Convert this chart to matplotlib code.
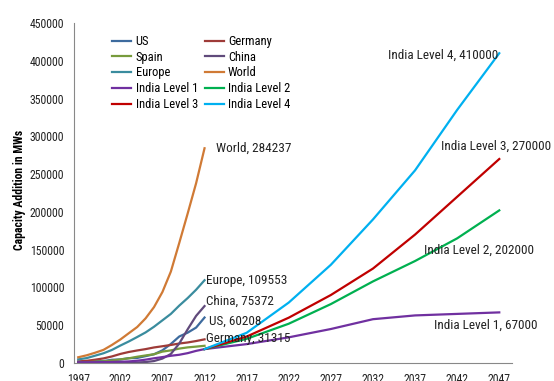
import matplotlib
matplotlib.use("Agg")
import matplotlib.pyplot as plt

plt.rcParams['font.family'] = ['Roboto Condensed', 'Liberation Sans', 'DejaVu Sans']

# installed capacity, MW
hist_years = list(range(1997, 2013))
us = [1600, 1900, 2500, 2600, 4300, 4700, 6400, 6700, 9100, 11600, 16800, 25200, 35100, 40200, 46900, 60208]
germany = [2100, 2900, 4400, 6100, 8700, 12000, 14600, 16600, 18400, 20600, 22200, 23900, 25800, 27200, 29100, 31315]
spain = [500, 900, 1800, 2200, 3300, 4800, 6200, 8300, 10000, 11600, 15100, 16700, 19100, 20700, 21700, 22800]
china = [170, 220, 260, 350, 400, 470, 570, 760, 1260, 2600, 5900, 12000, 25800, 44700, 62400, 75372]
europe = [4800, 6500, 9700, 12900, 17300, 23100, 28500, 34400, 40500, 48000, 56500, 65000, 76000, 86000, 97000, 109553]
world = [7600, 10200, 13600, 17400, 23900, 31100, 39400, 47600, 59100, 74000, 94000, 121000, 159000, 198000, 238000, 284237]
india_hist = [940, 1020, 1080, 1220, 1460, 1700, 2110, 3000, 4430, 6270, 7850, 9590, 10930, 13070, 16080, 18420]

# India scenarios
proj_years = [2012, 2017, 2022, 2027, 2032, 2037, 2042, 2047]
india_l1 = [18420, 25000, 34000, 45000, 58000, 63000, 65000, 67000]
india_l2 = [18420, 32000, 52000, 78000, 108000, 135000, 165000, 202000]
india_l3 = [18420, 35000, 60000, 90000, 125000, 170000, 220000, 270000]
india_l4 = [18420, 40000, 80000, 130000, 190000, 255000, 335000, 410000]

colors = {
    'US': '#3D6B9E', 'Germany': '#9E3B38', 'Spain': '#779B3C', 'China': '#604A7B',
    'Europe': '#3A8C9E', 'World': '#D07A35',
    'India Level 1': '#7030A0', 'India Level 2': '#00B050',
    'India Level 3': '#C00000', 'India Level 4': '#00B0F0',
}

fig = plt.figure(figsize=(5.54, 3.81), dpi=100)
ax = fig.add_axes([0.1336, 0.0472, 0.7904, 0.8924])

lw = 1.6
lines = {}
for name, vals in [('US', us), ('Germany', germany), ('Spain', spain), ('China', china),
                   ('Europe', europe), ('World', world)]:
    lines[name], = ax.plot(hist_years, vals, color=colors[name], lw=lw, label=name)

lines['India Level 1'], = ax.plot(hist_years + proj_years[1:], india_hist + india_l1[1:],
                                  color=colors['India Level 1'], lw=lw, label='India Level 1')
for name, vals in [('India Level 2', india_l2), ('India Level 3', india_l3), ('India Level 4', india_l4)]:
    lines[name], = ax.plot(proj_years, vals, color=colors[name], lw=lw, label=name)

ax.set_xlim(1996.5, 2048.5)
ax.set_ylim(0, 450000)
ax.set_xticks(range(1997, 2048, 5))
ax.set_yticks(range(0, 450001, 50000))
ax.tick_params(length=0, labelsize=8.5, colors='#222222')
ax.tick_params(axis='y', pad=7)
ax.tick_params(axis='x', pad=7)
for s in ['top', 'right']:
    ax.spines[s].set_visible(False)
for s in ['left', 'bottom']:
    ax.spines[s].set_color('#888888')
ax.set_ylabel('Capacity Addition in MWs', fontsize=8.5, fontweight='bold', labelpad=5)
ax.yaxis.set_label_coords(-0.11, 0.51)

order = ['US', 'Spain', 'Europe', 'India Level 1', 'India Level 3',
         'Germany', 'China', 'World', 'India Level 2', 'India Level 4']
ax.legend([lines[n] for n in order], order, ncol=2, frameon=False, fontsize=9,
          loc='upper left', bbox_to_anchor=(0.062, 0.998), handlelength=1.5,
          handletextpad=0.35, columnspacing=0.55, labelspacing=0.22)

# end-point labels
tk = dict(fontsize=9.5, color='#222222', textcoords='offset pixels')
ax.annotate('World, 284237', (2012, world[-1]), xytext=(11, 0), ha='left', va='center', **tk)
ax.annotate('Europe, 109553', (2012, europe[-1]), xytext=(1, 0), ha='left', va='center', **tk)
ax.annotate('China, 75372', (2012, china[-1]), xytext=(1, 5), ha='left', va='center', **tk)
ax.annotate('US, 60208', (2012, us[-1]), xytext=(4, -4), ha='left', va='center', **tk)
ax.annotate('Germany, 31315', (2012, germany[-1]), xytext=(1, 1), ha='left', va='center', **tk)
ax.annotate('India Level 4, 410000', (2047, india_l4[-1]), xytext=(-1, -2), ha='right', va='center', **tk)
ax.annotate('India Level 3, 270000', (2047, india_l3[-1]), xytext=(-3, 13), ha='center', va='center', **tk)
ax.annotate('India Level 2, 202000', (2047, india_l2[-1]), xytext=(-20, -40), ha='center', va='center', **tk)
ax.annotate('India Level 1, 67000', (2047, india_l1[-1]), xytext=(-14, -13), ha='center', va='center', **tk)

fig.savefig('out.png', dpi=100)
